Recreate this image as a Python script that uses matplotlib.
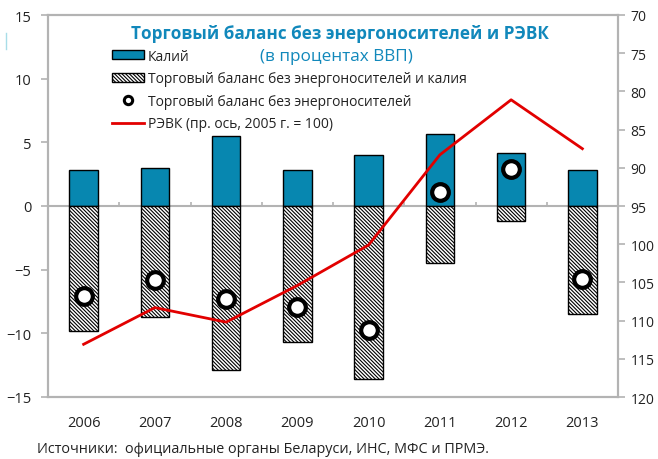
import matplotlib
matplotlib.use("Agg")
import matplotlib.pyplot as plt
from matplotlib.lines import Line2D
from matplotlib.patches import Patch
import numpy as np

plt.rcParams['font.family'] = ['Open Sans', 'DejaVu Sans']
plt.rcParams['hatch.linewidth'] = 0.8
plt.rcParams['hatch.color'] = '#6a6a6a'

years = ['2006', '2007', '2008', '2009', '2010', '2011', '2012', '2013']
potash = [2.8, 3.0, 5.5, 2.8, 4.0, 5.65, 4.15, 2.85]
balance_ex_potash = [-9.8, -8.7, -12.9, -10.7, -13.6, -4.5, -1.2, -8.5]
balance_ex_energy = [-7.1, -5.8, -7.3, -7.9, -9.7, 1.1, 2.9, -5.7]
reer = [113.1, 108.3, 110.2, 105.4, 100.1, 88.3, 81.1, 87.5]

title = 'Торговый баланс без энергоносителей и РЭВК'
subtitle = '(в процентах ВВП)'
labels = ['Калий', 'Торговый баланс без энергоносителей и калия',
          'Торговый баланс без энергоносителей', 'РЭВК (пр. ось, 2005 г. = 100)']
source = 'Источники:  официальные органы Беларуси, ИНС, МФС и ПРМЭ.'

blue = '#0787b0'
title_blue = '#1188bb'
grey = '#b3b3b3'
txt = '#222222'
hatch = '\\' * 9

fig = plt.figure(figsize=(6.58, 4.60), dpi=100)
ax = fig.add_axes([48/658, 1-398/460, 570/658, 382/460])
x = np.arange(len(years))

ax.bar(x, potash, width=0.4, color=blue, edgecolor='black', linewidth=1.0, zorder=2)
ax.bar(x, balance_ex_potash, width=0.4, color='white', edgecolor='black',
       linewidth=1.0, hatch=hatch, zorder=2)
ax.axhline(0, color=grey, linewidth=1.5, zorder=1)
ax.vlines(x[:-1] + 0.5, 0, 0.35, color=grey, linewidth=1.2, zorder=1)

ax.set_xlim(-0.5, len(years) - 0.5)
ax.set_ylim(-15, 15)
ax.set_yticks(np.arange(-15, 16, 5))
ax.set_xticks(x)
ax.set_xticklabels(years)
ax.tick_params(axis='x', length=0, pad=13, labelsize=10.5, labelcolor=txt)
ax.tick_params(axis='y', length=5, width=1.2, color=grey, labelsize=10.5, labelcolor=txt, pad=7)
for s in ax.spines.values():
    s.set_color(grey)
    s.set_linewidth(1.5)

ax2 = ax.twinx()
ax2.plot(x, reer, color='#e20000', linewidth=2.0, zorder=3)
ax2.set_ylim(120, 70)
ax2.set_yticks(np.arange(70, 121, 5))
ax2.tick_params(axis='y', length=5, width=1.2, color=grey, labelsize=10, labelcolor=txt, pad=4)
for s in ax2.spines.values():
    s.set_color(grey)
    s.set_linewidth(1.5)

ax3 = ax.twinx()
ax3.set_ylim(-15, 15)
ax3.axis('off')
ax3.plot(x, balance_ex_energy, linestyle='none', marker='o', markersize=12,
         markerfacecolor='white', markeredgecolor='black', markeredgewidth=3.0, zorder=4)

fig.text(340/658, 1-34/460, title, ha='center', va='center', fontsize=12.3,
         fontweight='bold', color=title_blue)
fig.text(336/658, 1-57/460, subtitle, ha='center', va='center', fontsize=12.3,
         color=title_blue)

handles = [Patch(facecolor=blue, edgecolor='black', linewidth=1.0),
           Patch(facecolor='white', edgecolor='black', linewidth=1.0, hatch=hatch),
           Line2D([], [], linestyle='none', marker='o', markersize=6,
                  markerfacecolor='white', markeredgecolor='black', markeredgewidth=2.2),
           Line2D([], [], color='#e20000', linewidth=2.0)]
leg = ax3.legend(handles, labels, loc='upper left', bbox_to_anchor=(58/570, 1-28/382),
                 frameon=False, fontsize=10, handlelength=2.3, handleheight=0.6,
                 handletextpad=0.3, labelspacing=0.55, borderaxespad=0)
for t in leg.get_texts():
    t.set_color(txt)

fig.text(37/658, 1-450/460, source, ha='left', va='center', fontsize=10.4, color=txt)
fig.add_artist(Line2D([6/658, 6/658], [1-34/460, 1-50/460], color='#a8dde8', linewidth=1))

fig.savefig('out.png', dpi=100)
